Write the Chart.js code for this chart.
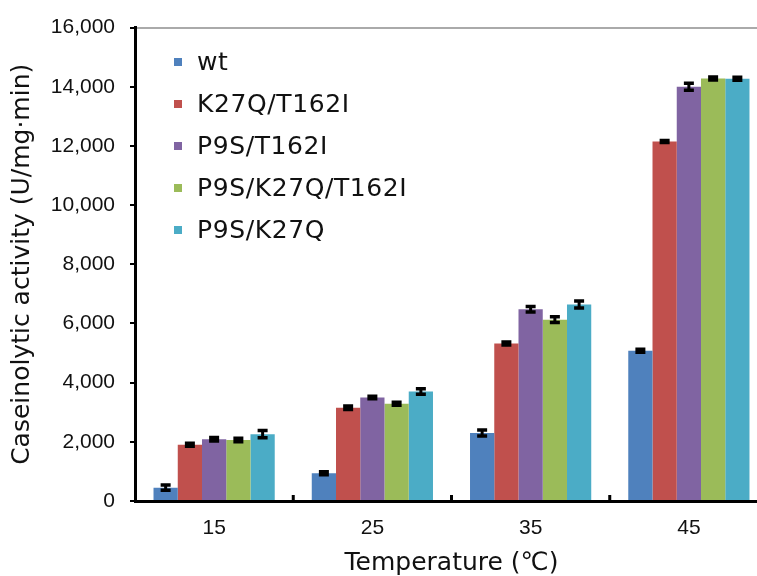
<!DOCTYPE html>
<html lang="en">
<head>
    <meta charset="UTF-8">
    <title>Caseinolytic activity</title>
    <script src="https://cdn.jsdelivr.net/npm/chart.js"></script>
    <style>
        html, body { margin: 0; padding: 0; overflow: hidden; background: #fff; }
        #wrap { position: relative; width: 770px; height: 576px; }
        #legend {
            position: absolute; left: 174px; top: 41px; margin: 0; padding: 0; list-style: none;
            font-family: 'DejaVu Sans', sans-serif; font-size: 25px; letter-spacing: 0.6px; color: #111;
        }
        #legend li { height: 42px; line-height: 42px; white-space: nowrap; }
        #legend span { display: inline-block; width: 8px; height: 8px; margin-right: 15px; vertical-align: middle; position: relative; top: -1px; }
    </style>
</head>
<body>
    <div id="wrap">
        <canvas id="chart"></canvas>
        <ul id="legend"></ul>
    </div>

    <script>
        const temps = ['15', '25', '35', '45'];
        const variants = ['wt', 'K27Q/T162I', 'P9S/T162I', 'P9S/K27Q/T162I', 'P9S/K27Q'];
        const colors = ['#4F81BD', '#C0504D', '#8064A2', '#9BBB59', '#4BACC6'];

        // activity per variant, one value per temperature
        const wt = [450, 940, 2300, 5080];
        const k27qT162i = [1900, 3150, 5320, 12150];
        const p9sT162i = [2090, 3500, 6480, 14000];
        const p9sK27qT162i = [2060, 3290, 6130, 14280];
        const p9sK27q = [2260, 3700, 6640, 14270];

        // standard deviations
        const wtErr = [90, 50, 100, 50];
        const k27qT162iErr = [50, 60, 50, 30];
        const p9sT162iErr = [60, 40, 90, 120];
        const p9sK27qT162iErr = [60, 50, 100, 50];
        const p9sK27qErr = [120, 90, 120, 50];

        const yTicks = [0, 2000, 4000, 6000, 8000, 10000, 12000, 14000, 16000];

        const values = [wt, k27qT162i, p9sT162i, p9sK27qT162i, p9sK27q];
        const errors = [wtErr, k27qT162iErr, p9sT162iErr, p9sK27qT162iErr, p9sK27qErr];

        const legend = document.getElementById('legend');
        variants.forEach((name, i) => {
            const li = document.createElement('li');
            li.innerHTML = '<span style="background:' + colors[i] + '"></span>' + name;
            legend.appendChild(li);
        });

        const errorBars = {
            id: 'errorBars',
            afterDatasetsDraw(chart) {
                const ctx = chart.ctx;
                const y = chart.scales.y;
                ctx.save();
                ctx.strokeStyle = '#000';
                chart.data.datasets.forEach((ds, i) => {
                    chart.getDatasetMeta(i).data.forEach((bar, j) => {
                        const top = y.getPixelForValue(ds.data[j] + errors[i][j]);
                        const bot = y.getPixelForValue(ds.data[j] - errors[i][j]);
                        ctx.lineWidth = 3;
                        ctx.beginPath();
                        ctx.moveTo(bar.x, top - 1);
                        ctx.lineTo(bar.x, bot + 1);
                        ctx.stroke();
                        ctx.lineWidth = 3.5;
                        ctx.beginPath();
                        ctx.moveTo(bar.x - 5, top);
                        ctx.lineTo(bar.x + 5, top);
                        ctx.moveTo(bar.x - 5, bot);
                        ctx.lineTo(bar.x + 5, bot);
                        ctx.stroke();
                    });
                });
                ctx.restore();
            }
        };

        // little upward ticks between the temperature groups
        const groupTicks = {
            id: 'groupTicks',
            afterDraw(chart) {
                const ctx = chart.ctx;
                const x = chart.scales.x;
                const base = chart.chartArea.bottom;
                ctx.save();
                ctx.strokeStyle = '#000';
                ctx.lineWidth = 3;
                ctx.beginPath();
                for (let i = 0; i < temps.length - 1; i++) {
                    const px = (x.getPixelForValue(i) + x.getPixelForValue(i + 1)) / 2;
                    ctx.moveTo(px, base);
                    ctx.lineTo(px, base - 6);
                }
                ctx.stroke();
                ctx.restore();
            }
        };

        new Chart(document.getElementById('chart'), {
            type: 'bar',
            data: {
                labels: temps,
                datasets: variants.map((name, i) => ({
                    label: name,
                    data: values[i],
                    backgroundColor: colors[i],
                    borderWidth: 0,
                    categoryPercentage: 0.766,
                    barPercentage: 1.0
                }))
            },
            options: {
                responsive: true,
                maintainAspectRatio: false,
                animation: false,
                layout: { padding: { top: 24, right: 2, bottom: 0, left: 0 } },
                plugins: {
                    legend: { display: false },
                    tooltip: { enabled: false }
                },
                scales: {
                    x: {
                        afterFit: s => { s.height = 75; },
                        grid: { display: false, drawTicks: false },
                        border: { display: true, color: '#000', width: 3 },
                        ticks: {
                            padding: 15,
                            color: '#111',
                            font: { family: "'Liberation Sans', Arial, sans-serif", size: 21 }
                        },
                        title: {
                            display: true,
                            text: 'Temperature (℃)',
                            color: '#111',
                            padding: { top: 0, bottom: -2 },
                            font: { family: "'DejaVu Sans', sans-serif", size: 25 }
                        }
                    },
                    y: {
                        min: 0,
                        max: 16000,
                        afterFit: s => { s.width = 135; },
                        afterBuildTicks: s => { s.ticks = yTicks.map(v => ({ value: v })); },
                        grid: {
                            color: c => c.tick && c.tick.value === 16000 ? '#aaa' : 'rgba(0,0,0,0)',
                            lineWidth: 2,
                            tickColor: '#000',
                            tickLength: 5,
                            tickWidth: 2
                        },
                        border: { display: true, color: '#000', width: 3 },
                        ticks: {
                            padding: 15,
                            color: '#111',
                            font: { family: "'Liberation Sans', Arial, sans-serif", size: 21 },
                            callback: v => v.toLocaleString('en-US')
                        },
                        title: {
                            display: true,
                            text: 'Caseinolytic activity (U/mg·min)',
                            color: '#111',
                            padding: { top: 7, bottom: 0 },
                            font: { family: "'DejaVu Sans', sans-serif", size: 25 }
                        }
                    }
                }
            },
            plugins: [errorBars, groupTicks]
        });
    </script>
</body>
</html>
